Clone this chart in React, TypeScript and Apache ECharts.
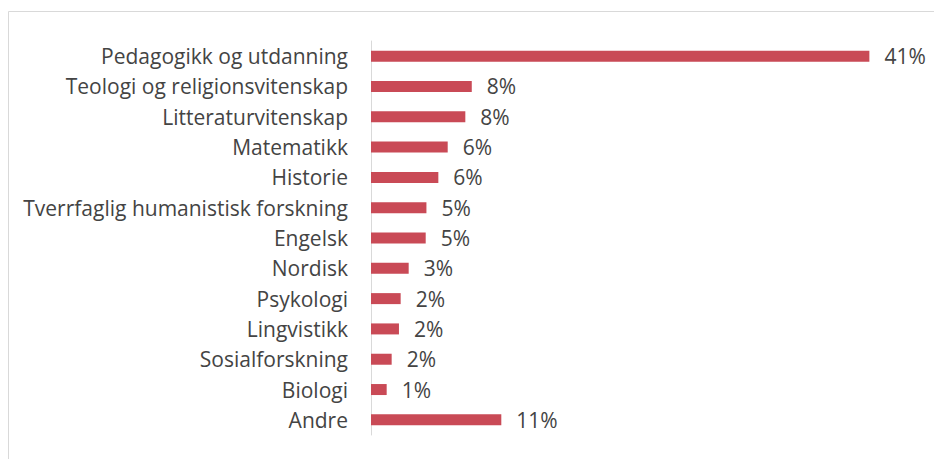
import React, { useEffect, useRef } from "react";
import * as echarts from "echarts";

const categories = [
  "Pedagogikk og utdanning",
  "Teologi og religionsvitenskap",
  "Litteraturvitenskap",
  "Matematikk",
  "Historie",
  "Tverrfaglig humanistisk forskning",
  "Engelsk",
  "Nordisk",
  "Psykologi",
  "Lingvistikk",
  "Sosialforskning",
  "Biologi",
  "Andre",
];
const values = [41.0, 8.29, 7.76, 6.31, 5.54, 4.56, 4.5, 3.1, 2.44, 2.3, 1.7, 1.29, 10.72];

export default function App() {
  const ref = useRef<HTMLDivElement>(null);
  useEffect(() => {
    if (!ref.current) return;
    const chart = echarts.init(ref.current, null, { renderer: "svg" });
    chart.setOption({
      animation: false,
      textStyle: { fontFamily: "Open Sans" },
      graphic: [
        {
          type: "rect",
          shape: { x: 8.5, y: 11.5, width: 960, height: 480 },
          style: { fill: "none", stroke: "#d9d9d9", lineWidth: 1 },
          silent: true,
        },
      ],
      grid: { left: 371, top: 41, width: 547, height: 394, containLabel: false },
      xAxis: {
        type: "value",
        min: 0,
        max: 45,
        show: false,
      },
      yAxis: {
        type: "category",
        data: categories,
        inverse: true,
        axisLine: { show: true, lineStyle: { color: "#d9d9d9", width: 1 } },
        axisTick: { show: false },
        axisLabel: {
          color: "#444444",
          fontSize: 21,
          fontFamily: "Open Sans",
          margin: 23,
        },
        splitLine: { show: false },
      },
      series: [
        {
          type: "bar",
          data: values,
          barWidth: 11,
          itemStyle: { color: "#c94a56" },
          label: {
            show: true,
            position: "right",
            distance: 15,
            color: "#444444",
            fontSize: 21,
            fontFamily: "Open Sans",
            formatter: (p: any) => Math.round(p.value) + "%",
          },
        },
      ],
    });
    return () => chart.dispose();
  }, []);
  return (
    <div
      ref={ref}
      style={{ position: "fixed", left: 0, top: 0, width: 934, height: 459, background: "#fff" }}
    />
  );
}
